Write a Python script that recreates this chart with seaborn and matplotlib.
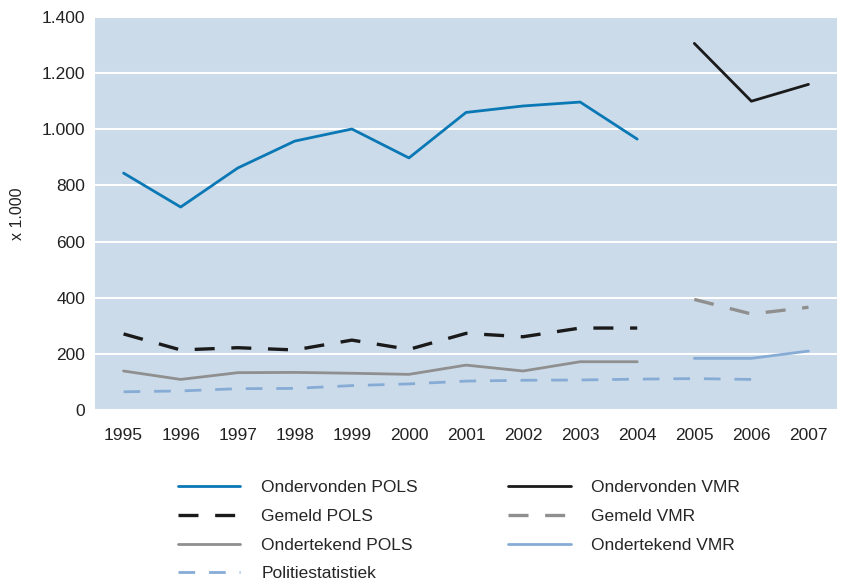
import numpy as np
import pandas as pd
import matplotlib.pyplot as plt
import matplotlib.ticker as mticker
import seaborn as sns

# data (x 1.000)
years_pols = [1995, 1996, 1997, 1998, 1999, 2000, 2001, 2002, 2003, 2004]
years_vmr = [2005, 2006, 2007]
years_politie = [1995, 1996, 1997, 1998, 1999, 2000, 2001, 2002, 2003, 2004, 2005, 2006]

ondervonden_pols = [844, 723, 862, 958, 1001, 898, 1060, 1083, 1097, 965]
gemeld_pols = [271, 214, 222, 214, 249, 216, 273, 261, 292, 292]
ondertekend_pols = [139, 109, 133, 134, 131, 127, 160, 139, 172, 172]
politiestatistiek = [65, 68, 76, 77, 87, 93, 103, 106, 107, 110, 112, 109]
ondervonden_vmr = [1306, 1100, 1160]
gemeld_vmr = [394, 342, 366]
ondertekend_vmr = [184, 184, 210]

sns.set_theme(style="white")
plt.rcParams['font.family'] = ['Liberation Sans', 'DejaVu Sans']

blue = "#0a78b4"
lightblue = "#86acd6"
grey = "#8f8f8f"
black = "#1a1a1a"

fig = plt.figure(figsize=(8.44, 5.82), dpi=100)
ax = fig.add_axes([0.1126, 0.2955, 0.8791, 0.6753])
ax.set_facecolor("#ccdbea")

sns.lineplot(x=years_pols, y=ondervonden_pols, color=blue, lw=2, ax=ax, label="Ondervonden POLS")
sns.lineplot(x=years_pols, y=gemeld_pols, color=black, lw=2.4, linestyle=(0, (6, 5)), ax=ax, label="Gemeld POLS")
sns.lineplot(x=years_pols, y=ondertekend_pols, color=grey, lw=2, ax=ax, label="Ondertekend POLS")
sns.lineplot(x=years_politie, y=politiestatistiek, color=lightblue, lw=2, linestyle=(0, (6, 5)), ax=ax, label="Politiestatistiek")
sns.lineplot(x=years_vmr, y=ondervonden_vmr, color=black, lw=2, ax=ax, label="Ondervonden VMR")
sns.lineplot(x=years_vmr, y=gemeld_vmr, color=grey, lw=2.4, linestyle=(0, (6, 5)), ax=ax, label="Gemeld VMR")
sns.lineplot(x=years_vmr, y=ondertekend_vmr, color=lightblue, lw=2, ax=ax, label="Ondertekend VMR")

ax.set_xlim(1994.5, 2007.5)
ax.set_ylim(0, 1400)
ax.set_xticks(years_politie + [2007])
ax.set_yticks(range(0, 1401, 200))
ax.yaxis.set_major_formatter(mticker.FuncFormatter(lambda v, p: f"{int(v):,}".replace(",", ".")))
ax.grid(axis="y", color="white", lw=1.5)
ax.set_axisbelow(True)
for s in ax.spines.values():
    s.set_visible(False)
ax.tick_params(axis="both", length=0, labelsize=12.5, colors="#222222")
ax.tick_params(axis="x", pad=13)
ax.tick_params(axis="y", pad=7)
ax.set_ylabel("x 1.000", fontsize=11.5, color="#222222")
ax.yaxis.set_label_coords(-0.094, 0.5)

handles, labels = ax.get_legend_handles_labels()
ax.get_legend().remove()
fig.legend(handles, labels, ncol=2, loc="upper center", bbox_to_anchor=(0.544, 0.202),
           frameon=False, handlelength=3.6, handletextpad=1.2,
           columnspacing=5.2, labelspacing=0.78,
           prop={'family': ['Liberation Sans', 'DejaVu Sans'], 'size': 12.5})

fig.savefig("out.png", dpi=100)
